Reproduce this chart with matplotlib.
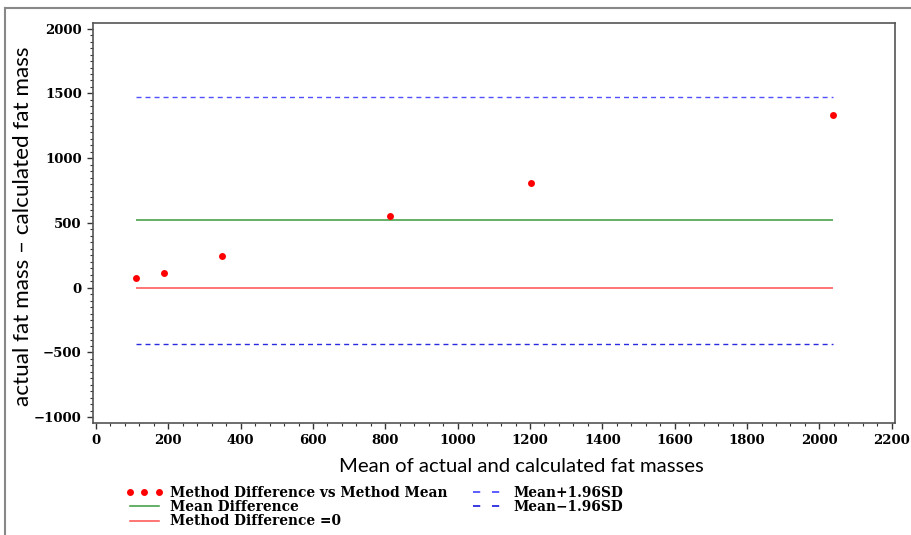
import numpy as np
import matplotlib
matplotlib.use("Agg")
import matplotlib.pyplot as plt
from matplotlib.lines import Line2D

# valores
media_metodos = [110, 188, 349, 813, 1203, 2038]
dif_metodos = [74, 116, 242, 551, 812, 1330]
media_dif = 523
lim_sup = 1474
lim_inf = -433

xticks = np.arange(0, 2201, 200)
yticks = np.arange(-1000, 2001, 500)

fuente_ticks = dict(family="DejaVu Serif", weight="bold", size=9.5)
fuente_ejes = ["Lato", "DejaVu Sans"]
c_sup, c_inf = "#5050ff", "#2a2ae0"

fig = plt.figure(figsize=(9.11, 5.35), dpi=100)
ax = fig.add_axes([0.1018, 0.2099, 0.8806, 0.7477])

x0, x1 = np.min(media_metodos), np.max(media_metodos)
ax.hlines(lim_sup, x0, x1, color=c_sup, lw=1, linestyles=(0, (3.6, 2.9)))
ax.hlines(media_dif, x0, x1, color="#3a9a3a", lw=1.1)
ax.hlines(0, x0, x1, color="#ff5050", lw=1.1)
ax.hlines(lim_inf, x0, x1, color=c_inf, lw=1, linestyles=(0, (3.6, 2.9)))
ax.plot(media_metodos, dif_metodos, "o", color="red", ms=5, mec="none")

ax.set_xlim(-9, 2209)
ax.set_ylim(-1042, 2046)
ax.set_xticks(xticks)
ax.set_yticks(yticks)
ax.set_xticks(np.arange(0, 2201, 40), minor=True)
ax.set_yticks(np.arange(-1000, 2001, 50), minor=True)
ax.set_xticklabels([str(v) for v in xticks], **fuente_ticks)
ax.set_yticklabels([str(v).replace("-", "\u2212") for v in yticks], **fuente_ticks)
ax.tick_params(which="major", direction="out", length=4, width=1, color="#333333", pad=4)
ax.tick_params(which="minor", direction="out", length=2.2, width=0.8, color="#333333")
for s in ax.spines.values():
    s.set_color("#555555")
    s.set_linewidth(1.2)

ax.set_xlabel("Mean of actual and calculated fat masses", family=fuente_ejes, size=14.6)
ax.xaxis.set_label_coords(0.534, -0.088)
ax.set_ylabel("actual fat mass \u2013 calculated fat mass", family=fuente_ejes, size=16.2)
ax.yaxis.set_label_coords(-0.075, 0.49)

# leyenda abajo, dos columnas (simbolos propios)
handles = [
    Line2D([], [], ls="none", marker="o", color="red", ms=5, mec="none"),
    Line2D([], [], color="#3a9a3a", lw=1.1),
    Line2D([], [], color="#ff5050", lw=1.1),
    Line2D([], [], color=c_sup, lw=1.3, dashes=(4, 6.5)),
    Line2D([], [], color=c_inf, lw=1.3, dashes=(4, 6.5)),
]
labels = ["Method Difference vs Method Mean", "Mean Difference", "Method Difference =0",
          "Mean+1.96SD", "Mean\u22121.96SD"]
fig.legend(handles, labels, ncol=2, numpoints=3,
           loc="upper left", bbox_to_anchor=(0.138, 0.092), frameon=False,
           prop=dict(family="DejaVu Serif", weight="bold", size=9.9),
           handlelength=2.7, handletextpad=0.55, columnspacing=1.5,
           labelspacing=0.02, borderpad=0, borderaxespad=0)

# marco exterior
fig.add_artist(Line2D([0.005, 1], [1 - 8 / 535, 1 - 8 / 535], transform=fig.transFigure, color="#888888", lw=1.5))
fig.add_artist(Line2D([0.005, 0.005], [0, 1 - 8 / 535], transform=fig.transFigure, color="#888888", lw=1.5))

fig.savefig("out.png", dpi=100)
